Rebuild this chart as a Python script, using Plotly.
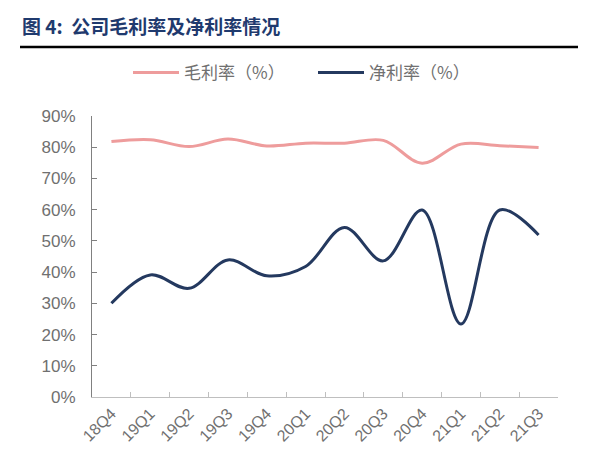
import plotly.graph_objects as go

quarters = ['18Q4', '19Q1', '19Q2', '19Q3', '19Q4', '20Q1',
            '20Q2', '20Q3', '20Q4', '21Q1', '21Q2', '21Q3']
gross_margin = [0.818, 0.824, 0.802, 0.826, 0.804, 0.813,
                0.813, 0.822, 0.749, 0.810, 0.805, 0.799]
net_margin = [0.300, 0.391, 0.348, 0.439, 0.388, 0.418,
              0.543, 0.436, 0.599, 0.234, 0.599, 0.519]
y_ticks = [0, 0.1, 0.2, 0.3, 0.4, 0.5, 0.6, 0.7, 0.8, 0.9]

PINK = '#EE9C9C'
NAVY = '#24395F'
GRAY = '#707070'

# page body has an 8px margin, so plot box offsets are compensated
fig = go.Figure()
fig.add_trace(go.Scatter(x=quarters, y=gross_margin, name='毛利率（%）', legend='legend',
                         mode='lines', line=dict(color=PINK, width=3,
                                                 shape='spline', smoothing=1)))
fig.add_trace(go.Scatter(x=quarters, y=net_margin, name='净利率（%）', legend='legend2',
                         mode='lines', line=dict(color=NAVY, width=3,
                                                 shape='spline', smoothing=1)))

legend_font = dict(size=17, color=GRAY, family='Noto Sans CJK SC')
fig.update_layout(
    width=602, height=467,
    margin=dict(l=84, r=52, t=108, b=78, autoexpand=False),
    paper_bgcolor='white', plot_bgcolor='white',
    font=dict(family='Liberation Sans, Noto Sans CJK SC', color=GRAY, size=16),
    showlegend=True,
    legend=dict(orientation='h', x=(128 - 92) / 466, xanchor='left', itemwidth=46,
                y=1 + (116 - 73) / 281, yanchor='middle', font=legend_font),
    legend2=dict(orientation='h', x=(313 - 92) / 466, xanchor='left', itemwidth=46,
                 y=1 + (116 - 73) / 281, yanchor='middle', font=legend_font),
    annotations=[dict(text='<b>图 4:  公司毛利率及净利率情况</b>', xref='paper', yref='paper',
                      x=(20 - 92) / 466, y=1 + (116 - 25) / 281, xanchor='left',
                      yanchor='middle', showarrow=False,
                      font=dict(size=19, color='#1F3A6E', family='Noto Sans CJK SC'))],
    shapes=[dict(type='line', xref='paper', yref='paper',
                 x0=(20 - 92) / 466, x1=(578 - 92) / 466,
                 y0=1 + (116 - 47) / 281, y1=1 + (116 - 47) / 281,
                 line=dict(color='black', width=2.5))],
)
fig.update_xaxes(range=[-0.5, 11.5], automargin=False,
                 showgrid=False, showline=True, linecolor='#BFBFBF', linewidth=1,
                 ticks='inside', ticklen=5, tickcolor='#BFBFBF', tickson='boundaries',
                 tickangle=-45, tickfont=dict(size=16, color=GRAY))
fig.update_yaxes(range=[0, 0.9], tickvals=y_ticks, tickformat='.0%', automargin=False,
                 showgrid=False, showline=True, linecolor='#808080', linewidth=1,
                 ticks='inside', ticklen=5, tickcolor='#808080', ticklabelstandoff=12,
                 zeroline=False, tickfont=dict(size=17, color=GRAY))

fig.write_html('out.html')
